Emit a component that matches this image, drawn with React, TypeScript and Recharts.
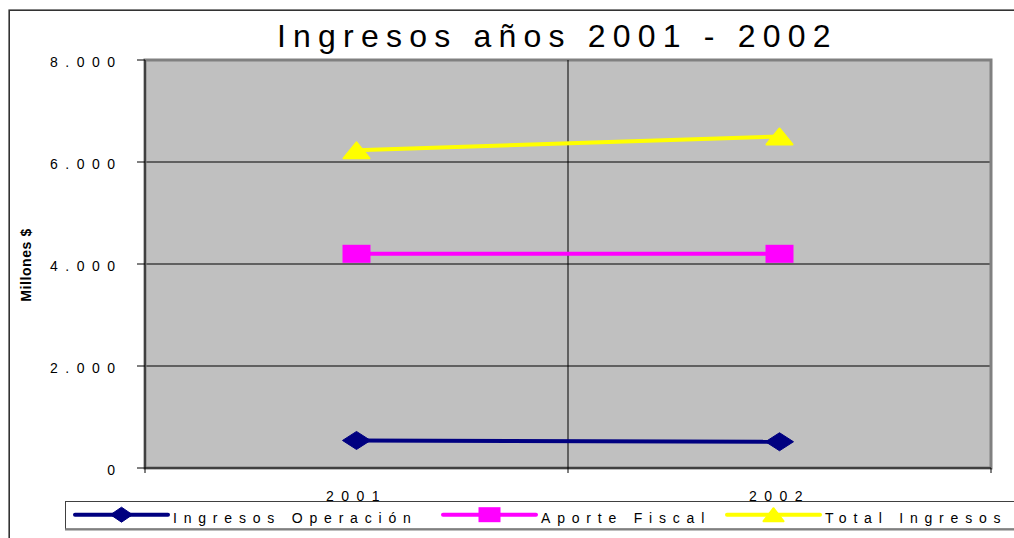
import React from 'react';
import {
  LineChart,
  Line,
  XAxis,
  YAxis,
  CartesianGrid,
  ReferenceLine,
  ReferenceArea,
  Legend,
} from 'recharts';

// ---- data ----
const years = ['2001', '2002'];
const ingresosOperacion = [540, 515];
const aporteFiscal = [4200, 4200];
const totalIngresos = [6230, 6500];
const yTicks = [0, 2000, 4000, 6000, 8000];
const title = 'Ingresos años 2001 - 2002';
const yLabel = 'Millones $';

const seriesNames = ['Ingresos Operación', 'Aporte Fiscal', 'Total Ingresos'];
const seriesKeys = ['op', 'fiscal', 'total'];
const seriesColors = ['#000080', '#FF00FF', '#FFFF00'];
const seriesShapes = ['diamond', 'square', 'triangle'];
const seriesValues = [ingresosOperacion, aporteFiscal, totalIngresos];

const data = years.map((year, i) => {
  const row: any = { x: i + 0.5, year };
  seriesKeys.forEach((k, s) => {
    row[k] = seriesValues[s][i];
  });
  return row;
});

const xTicks = [0, ...years.flatMap((_, i) => [i + 0.5, i + 1])];

const FONT = '"Liberation Sans", Arial, sans-serif';

const fmt = (v: number) => String(v).replace(/\B(?=(\d{3})+(?!\d))/g, '.');

function Marker({ shape, cx, cy, w, h, color }: any) {
  if (cx == null || cy == null) return null;
  if (shape === 'diamond') {
    return (
      <polygon
        points={`${cx - w / 2},${cy} ${cx},${cy - h / 2} ${cx + w / 2},${cy} ${cx},${cy + h / 2}`}
        fill={color}
        stroke={color}
        strokeWidth={1}
        strokeLinejoin="round"
      />
    );
  }
  if (shape === 'square') {
    return <rect x={cx - w / 2} y={cy - h / 2} width={w} height={h} fill={color} />;
  }
  return (
    <polygon
      points={`${cx - w / 2 + 1},${cy + h / 2 - 1} ${cx},${cy - h / 2 + 1} ${cx + w / 2 - 1},${cy + h / 2 - 1}`}
      fill={color}
      stroke={color}
      strokeWidth={2}
      strokeLinejoin="round"
    />
  );
}

const YTick = (props: any) => {
  const { x, y, payload } = props;
  return (
    <text
      x={x - 14.5}
      y={y + 6.5}
      textAnchor="end"
      fontSize={14}
      letterSpacing={7.5}
      fill="#000"
      fontFamily={FONT}
    >
      {fmt(payload.value)}
    </text>
  );
};

const XTick = (props: any) => {
  const { x, y, payload } = props;
  const v = payload.value;
  if (Number.isInteger(v)) {
    return <line x1={x} x2={x} y1={y} y2={y + 5} stroke="#000" strokeWidth={1} />;
  }
  return (
    <text
      x={x}
      y={y + 32.5}
      textAnchor="middle"
      fontSize={14}
      letterSpacing={7.5}
      fill="#000"
      fontFamily={FONT}
    >
      {years[Math.floor(v)]}
    </text>
  );
};

const legendItemX = [10, 378, 662];

const renderLegend = () => (
  <svg width={960} height={32} style={{ display: 'block' }}>
    <rect x={0.5} y={0.5} width={1000} height={27.5} fill="#fff" stroke="#404040" strokeWidth={1} />
    <line x1={0} x2={1000} y1={28.5} y2={28.5} stroke="#808080" strokeWidth={2} />
    {seriesNames.map((name, i) => {
      const x0 = legendItemX[i];
      const cy = 13.7;
      return (
        <g key={name}>
          <line
            x1={x0}
            x2={x0 + 93}
            y1={cy}
            y2={cy}
            stroke={seriesColors[i]}
            strokeWidth={4}
            strokeLinecap="round"
          />
          <Marker shape={seriesShapes[i]} cx={x0 + 46.5} cy={cy} w={22} h={15} color={seriesColors[i]} />
          <text x={x0 + 98} y={21.7} fontSize={14} letterSpacing={6.8} fill="#000" fontFamily={FONT}>
            {name}
          </text>
        </g>
      );
    })}
  </svg>
);

export default function App() {
  return (
    <div
      style={{
        position: 'absolute',
        left: 8,
        top: 8,
        width: 1006,
        height: 530,
        overflow: 'hidden',
        background: '#fff',
      }}
    >
      <LineChart
        width={1006}
        height={530}
        data={data}
        margin={{ top: 52, right: 23, bottom: 0, left: 0 }}
      >
        <CartesianGrid
          vertical={false}
          stroke="#000"
          strokeWidth={1}
          fill="#C0C0C0"
          fillOpacity={1}
        />
        <ReferenceLine x={1} stroke="#000" strokeWidth={1} />
        <ReferenceArea
          x1={0}
          x2={2}
          y1={0}
          y2={8000}
          fill="none"
          stroke="#808080"
          strokeWidth={3}
        />
        <XAxis
          type="number"
          dataKey="x"
          domain={[0, 2]}
          ticks={xTicks}
          interval={0}
          tickLine={false}
          tickSize={0}
          tickMargin={0}
          axisLine={{ stroke: '#000', strokeWidth: 1 }}
          height={70}
          tick={<XTick />}
          allowDecimals
        />
        <YAxis
          type="number"
          domain={[0, 8000]}
          ticks={yTicks}
          interval={0}
          width={137}
          tickSize={8}
          tickMargin={0}
          tickLine={{ stroke: '#000' }}
          axisLine={{ stroke: '#000', strokeWidth: 1 }}
          tick={<YTick />}
        />
        <Legend
          layout="horizontal"
          verticalAlign="middle"
          align="center"
          content={renderLegend}
          wrapperStyle={{ left: 57, top: 493, width: 960, height: 32 }}
        />
        {seriesKeys.map((k, i) => (
          <Line
            key={k}
            type="linear"
            dataKey={k}
            name={seriesNames[i]}
            stroke={seriesColors[i]}
            strokeWidth={4}
            isAnimationActive={false}
            activeDot={false}
            dot={(p: any) => (
              <Marker
                key={`${k}-${p.index}`}
                shape={seriesShapes[i]}
                cx={p.cx}
                cy={p.cy}
                w={28}
                h={18}
                color={seriesColors[i]}
              />
            )}
          />
        ))}
      </LineChart>
      <svg
        width={1006}
        height={530}
        style={{ position: 'absolute', left: 0, top: 0, pointerEvents: 'none' }}
      >
        <rect x={1.2} y={2.2} width={1100} height={700} fill="none" stroke="#333" strokeWidth={1.6} />
        <text x={269} y={39} fontSize={32} letterSpacing={7.2} fill="#000" fontFamily={FONT}>
          {title}
        </text>
        <text
          transform="translate(22.5,257) rotate(-90)"
          textAnchor="middle"
          fontSize={14}
          fontWeight="bold"
          letterSpacing={0.6}
          fill="#000"
          fontFamily={FONT}
        >
          {yLabel}
        </text>
      </svg>
    </div>
  );
}
